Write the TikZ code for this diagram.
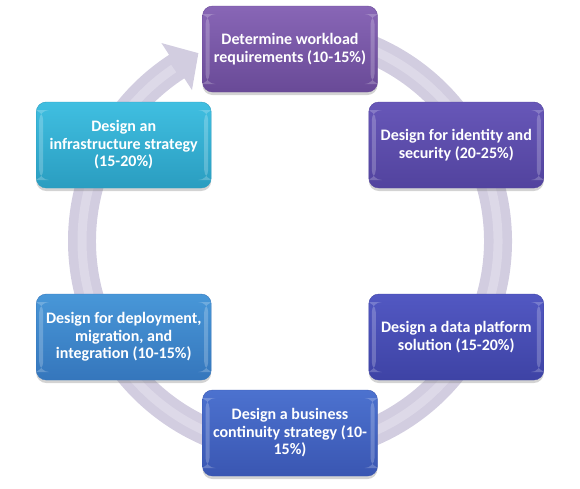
\documentclass[tikz,border=0pt]{standalone}
\usepackage{fontspec}
\setmainfont{Carlito}
\usepackage{tikz}
\usetikzlibrary{shadows,calc}

\definecolor{ringC}{HTML}{D2CDE0}
\definecolor{ringL}{HTML}{DDD9E8}
\definecolor{purpleT}{HTML}{8866B6}
\definecolor{purpleB}{HTML}{694A97}
\definecolor{violetT}{HTML}{6757B8}
\definecolor{violetB}{HTML}{52439E}
\definecolor{indigoT}{HTML}{5258C2}
\definecolor{indigoB}{HTML}{3E43A5}
\definecolor{blueT}{HTML}{4C72CF}
\definecolor{blueB}{HTML}{3A56B2}
\definecolor{skyT}{HTML}{4897D8}
\definecolor{skyB}{HTML}{3576BC}
\definecolor{cyanT}{HTML}{40BFE1}
\definecolor{cyanB}{HTML}{2A9DC0}

\begin{document}
\begin{tikzpicture}[
    x=1pt, y=1pt,
    block/.style={rectangle, rounded corners=10pt, minimum width=175pt, minimum height=86pt,
        align=center, text=white, font=\fontsize{16}{17.5}\selectfont\bfseries,
        drop shadow={shadow xshift=0pt, shadow yshift=-3pt, opacity=0.35},
        path picture={
            \fill[white, opacity=0.22] ([xshift=3pt, yshift=8pt]path picture bounding box.south west)
                rectangle ([xshift=7pt, yshift=-8pt]path picture bounding box.north west);
            \fill[white, opacity=0.22] ([xshift=-3pt, yshift=8pt]path picture bounding box.south east)
                rectangle ([xshift=-7pt, yshift=-8pt]path picture bounding box.north east);
        }},
    shade/.style 2 args={top color=#1, bottom color=#2, draw=#2},
]
    \useasboundingbox (0,0) rectangle (580,-488);
    \coordinate (hub) at (290,-241);

    % circular arrow behind the boxes
    \fill[ringC] ($(hub)+(95:222pt)$) arc[start angle=95, end angle=-237, radius=222pt]
        -- ($(hub)+(-237:236pt)$) -- ($(hub)+(-244:209pt)$) -- ($(hub)+(-237:180pt)$)
        -- ($(hub)+(-237:194pt)$) arc[start angle=-237, end angle=95, radius=194pt] -- cycle;
    \draw[ringL, line width=9pt] ($(hub)+(95:208pt)$) arc[start angle=95, end angle=-236, radius=208pt];

    \node[block, shade={purpleT}{purpleB}] (workload) at ($(hub)+(90:192pt)$) {Determine workload\\requirements (10-15\%)};
    \node[block, shade={violetT}{violetB}] (identity) at ($(hub)+(30:192pt)$) {Design for identity and\\security (20-25\%)};
    \node[block, shade={indigoT}{indigoB}] (data) at ($(hub)+(-30:192pt)$) {Design a data platform\\solution (15-20\%)};
    \node[block, shade={blueT}{blueB}] (continuity) at ($(hub)+(-90:192pt)$) {Design a business\\continuity strategy (10-\\15\%)};
    \node[block, shade={skyT}{skyB}] (deploy) at ($(hub)+(-150:192pt)$) {Design for deployment,\\migration, and\\integration (10-15\%)};
    \node[block, shade={cyanT}{cyanB}] (infra) at ($(hub)+(150:192pt)$) {Design an\\infrastructure strategy\\(15-20\%)};
\end{tikzpicture}
\end{document}
